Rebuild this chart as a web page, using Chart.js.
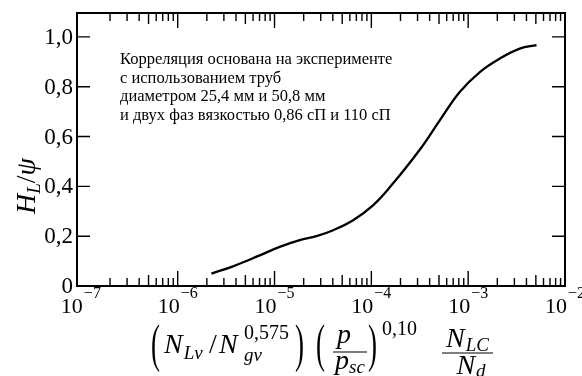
<!doctype html>
<html>
<head>
	<meta charset="utf-8">
	<title>Корреляция H_L/ψ</title>
	<style>
		body { margin: 0; background: #fff; }
	</style>
</head>
<body>
	<canvas id="chart-area" width="582" height="376"></canvas>
	<script src="https://cdn.jsdelivr.net/npm/chart.js@4.4.1/dist/chart.umd.min.js"></script>
	<script>
	// корреляционная кривая H_L/psi
	var groupValues = [2.23e-6, 3.73e-6, 7.03e-6, 1.13e-5, 1.82e-5, 2.71e-5, 4.03e-5, 6.48e-5, 1.04e-4, 1.55e-4, 3.16e-4, 5.09e-4, 8.18e-4, 1.32e-3, 2.12e-3, 3.41e-3, 5.08e-3];
	var hlValues = [0.050, 0.079, 0.123, 0.157, 0.184, 0.200, 0.224, 0.264, 0.324, 0.396, 0.547, 0.665, 0.779, 0.859, 0.913, 0.953, 0.967];

	var yTicks = [0, 0.2, 0.4, 0.6, 0.8, 1.0];
	var yTickLabels = ['0', '0,2', '0,4', '0,6', '0,8', '1,0'];
	var xDecades = [-7, -6, -5, -4, -3, -2];

	var noteLines = [
		'Корреляция основана на эксперименте',
		'с использованием труб',
		'диаметром 25,4 мм и 50,8 мм',
		'и двух фаз вязкостью 0,86 сП и 110 сП'
	];

	var SERIF = '"Liberation Serif", "DejaVu Serif", serif';

	function font(size, italic) {
		return (italic ? 'italic ' : '') + size + 'px ' + SERIF;
	}

	// пишет подряд куски текста, возвращает x конца
	function run(ctx, x, y, parts) {
		parts.forEach(function(p) {
			ctx.font = font(p.size, p.italic);
			ctx.fillText(p.t, x, y + (p.dy || 0));
			x += ctx.measureText(p.t).width + (p.gap || 0);
		});
		return x;
	}

	function runWidth(ctx, parts) {
		var w = 0;
		parts.forEach(function(p) {
			ctx.font = font(p.size, p.italic);
			w += ctx.measureText(p.t).width + (p.gap || 0);
		});
		return w;
	}

	// большая скобка
	function paren(ctx, ch, x, cy) {
		ctx.save();
		ctx.translate(x, cy);
		ctx.scale(1, 1.95);
		ctx.font = font(27, false);
		ctx.textBaseline = 'middle';
		ctx.fillText(ch, 0, 0);
		ctx.restore();
	}

	var frame = {
		id: 'frame',
		afterDraw: function(chart) {
			var ctx = chart.ctx;
			var a = chart.chartArea;
			var xs = chart.scales.x;
			var ys = chart.scales.y;
			ctx.save();
			ctx.strokeStyle = '#000';
			ctx.fillStyle = '#000';

			ctx.lineWidth = 2;
			ctx.strokeRect(a.left, a.top, a.right - a.left, a.bottom - a.top);

			// засечки по x (сверху и снизу, внутрь)
			ctx.lineWidth = 1.4;
			xDecades.forEach(function(e) {
				for (var m = 1; m <= 9; m++) {
					var v = m * Math.pow(10, e);
					var px = xs.getPixelForValue(v);
					if (px < a.left + 4 || px > a.right - 4) continue;
					var len = m == 1 ? 15 : (m == 5 ? 11 : 8);
					ctx.beginPath();
					ctx.moveTo(px, a.bottom);
					ctx.lineTo(px, a.bottom - len);
					ctx.moveTo(px, a.top);
					ctx.lineTo(px, a.top + len);
					ctx.stroke();
				}
			});

			// засечки по y
			yTicks.forEach(function(v) {
				var py = ys.getPixelForValue(v);
				if (py > a.bottom - 2) return;
				ctx.beginPath();
				ctx.moveTo(a.left, py);
				ctx.lineTo(a.left + 13, py);
				ctx.moveTo(a.right, py);
				ctx.lineTo(a.right - 13, py);
				ctx.stroke();
			});

			// подписи y
			ctx.textAlign = 'right';
			ctx.textBaseline = 'alphabetic';
			ctx.font = font(23, false);
			yTicks.forEach(function(v, i) {
				var py = ys.getPixelForValue(v);
				ctx.fillText(yTickLabels[i], a.left - 4, py + 7);
			});

			// подписи x: 10 в степени
			ctx.textAlign = 'left';
			xDecades.forEach(function(e) {
				var px = xs.getPixelForValue(Math.pow(10, e));
				var parts = [
					{ t: '10', size: 22, gap: 1 },
					{ t: '\u2212' + (-e), size: 16, dy: -15 }
				];
				var w = runWidth(ctx, parts);
				run(ctx, px - w / 2, a.bottom + 27, parts);
			});

			// заголовок оси y: H_L / psi
			ctx.save();
			ctx.translate(35, 214);
			ctx.rotate(-Math.PI / 2);
			run(ctx, 0, 0, [
				{ t: 'H', size: 28, italic: true },
				{ t: 'L', size: 19, italic: true, dy: 5 },
				{ t: '/', size: 28 },
				{ t: 'ψ', size: 28, italic: true }
			]);
			ctx.restore();

			// заголовок оси x
			paren(ctx, '(', 151, 347);
			run(ctx, 164, 353, [
				{ t: 'N', size: 28, italic: true, gap: 1 },
				{ t: 'Lv', size: 19, italic: true, dy: 6 }
			]);
			run(ctx, 209, 353, [{ t: '/', size: 28 }]);
			run(ctx, 219, 353, [{ t: 'N', size: 28, italic: true }]);
			run(ctx, 244, 339, [{ t: '0,575', size: 20 }]);
			run(ctx, 244, 361, [{ t: 'gv', size: 19, italic: true }]);
			paren(ctx, ')', 295, 347);

			paren(ctx, '(', 316, 347);
			ctx.font = font(28, true);
			run(ctx, 344 - ctx.measureText('p').width / 2, 343, [{ t: 'p', size: 28, italic: true }]);
			ctx.lineWidth = 1.2;
			ctx.beginPath();
			ctx.moveTo(333, 352);
			ctx.lineTo(367, 352);
			ctx.stroke();
			var psc = [{ t: 'p', size: 28, italic: true }, { t: 'sc', size: 19, italic: true, dy: 4 }];
			run(ctx, 350 - runWidth(ctx, psc) / 2, 369, psc);
			paren(ctx, ')', 368, 347);
			run(ctx, 382, 335, [{ t: '0,10', size: 20 }]);

			var nlc = [{ t: 'N', size: 28, italic: true, gap: 1 }, { t: 'LC', size: 19, italic: true, dy: 4 }];
			run(ctx, 467.5 - runWidth(ctx, nlc) / 2, 347, nlc);
			ctx.beginPath();
			ctx.moveTo(442, 353);
			ctx.lineTo(493, 353);
			ctx.stroke();
			var nd = [{ t: 'N', size: 28, italic: true, gap: 1 }, { t: 'd', size: 19, italic: true, dy: 3 }];
			run(ctx, 471 - runWidth(ctx, nd) / 2, 374, nd);

			// пояснение
			ctx.font = font(16.5, false);
			noteLines.forEach(function(s, i) {
				ctx.fillText(s, 120, 64 + i * 18.5);
			});

			ctx.restore();
		}
	};

	var points = groupValues.map(function(x, i) {
		return { x: x, y: hlValues[i] };
	});

	var config = {
		type: 'line',
		data: {
			datasets: [{
				data: points,
				borderColor: '#000',
				borderWidth: 2.3,
				pointRadius: 0,
				fill: false,
				tension: 0.4
			}]
		},
		options: {
			responsive: false,
			animation: false,
			layout: {
				padding: { left: 77, right: 17, top: 13, bottom: 90 }
			},
			plugins: {
				legend: { display: false },
				tooltip: { enabled: false }
			},
			scales: {
				x: {
					type: 'logarithmic',
					display: false,
					min: Math.pow(10, -7.04),
					max: 1e-2
				},
				y: {
					display: false,
					min: 0,
					max: 1.096
				}
			}
		},
		plugins: [frame]
	};

	window.onload = function() {
		var ctx = document.getElementById('chart-area').getContext('2d');
		window.myChart = new Chart(ctx, config);
	};
	</script>
</body>
</html>
